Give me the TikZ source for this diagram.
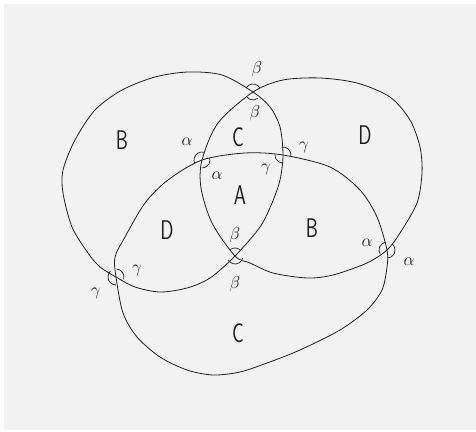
\documentclass[tikz,border=0pt]{standalone}
\usetikzlibrary{calc}
\definecolor{sheet}{HTML}{F2F2F2}
\definecolor{pencil}{HTML}{1E1E1E}
\newcommand{\MarkR}{8}

\begin{document}
\begin{tikzpicture}[x=1pt, y=1pt, pencil,
    ring/.style={draw=pencil, line width=0.8pt},
    angmark/.style={draw=pencil, line width=0.7pt},
    region/.style={font=\sffamily\fontsize{27}{30}\selectfont, xscale=0.72, inner sep=0pt},
    greek/.style={font=\fontsize{18}{20}\selectfont, inner sep=0pt},
  ]
% --- Background ---------------------------------------------------------------
\useasboundingbox (0,0) rectangle (476,-431);
\fill[white] (0,0) rectangle (476,-431);
\fill[sheet] (4,-4) rectangle (476,-430);

% --- The three rings (hand drawn, so smooth closed plots) ----------------------
\draw[ring] plot[smooth cycle] coordinates {(188,-72) (222,-75) (253,-92) (270,-107)
  (280,-127) (283,-155) (280,-180) (272,-203) (260,-227) (235,-256) (210,-278)
  (187,-288) (160,-292) (135,-287) (116,-277) (100,-267) (88,-253) (72,-227)
  (63,-193) (63,-170) (75,-140) (95,-110) (122,-90) (155,-77)};
\draw[ring] plot[smooth cycle] coordinates {(320,-78) (357,-83) (390,-97) (410,-120)
  (420,-147) (422,-173) (417,-203) (400,-233) (387,-250) (367,-263) (333,-275)
  (307,-278) (273,-273) (250,-263) (235,-256) (212,-223) (201,-188) (202,-160)
  (218,-123) (253,-92) (283,-80)};
\draw[ring] plot[smooth cycle] coordinates {(245,-153) (283,-155) (330,-167) (360,-190)
  (377,-217) (387,-250) (387,-267) (382,-290) (367,-310) (340,-330) (300,-350)
  (267,-363) (240,-372) (213,-375) (187,-370) (160,-357) (137,-337) (123,-313)
  (116,-277) (115,-257) (125,-237) (145,-203) (168,-180) (202,-160)};

% --- Crossings ------------------------------------------------------------------
\coordinate (top) at (253,-92);
\coordinate (mid) at (235,-256);
\coordinate (lup) at (202,-160);
\coordinate (rup) at (283,-155);
\coordinate (llo) at (116,-277);
\coordinate (rlo) at (387,-250);

% angle marks: crossing/start/end
\foreach \p/\a/\b in {top/30/150, top/215/306, mid/54/127, mid/210/343,
    lup/75/205, lup/272/375, rup/-12/100, rup/178/265,
    llo/135/270, llo/-18/85, rlo/100/212, rlo/-88/50} {
  \draw[angmark] (\p) ++(\a:\MarkR) arc[start angle=\a, end angle=\b, radius=\MarkR pt];
}

% --- Region letters -------------------------------------------------------------
\node[region] (bleft)  at (122,-140) {B};
\node[region] (ctop)   at (238,-137) {C};
\node[region] (dright) at (365,-135) {D};
\node[region] (acore)  at (240,-195) {A};
\node[region] (dleft)  at (167,-230) {D};
\node[region] (bright) at (312,-228) {B};
\node[region] (cbot)   at (238,-333) {C};

% --- Angle names ----------------------------------------------------------------
\node[greek] (btopout) at (257,-69)  {$\beta$};
\node[greek] (btopin)  at (255,-113) {$\beta$};
\node[greek] (bmidup)  at (235,-235) {$\beta$};
\node[greek] (bmiddn)  at (235,-284) {$\beta$};
\node[greek] (alupout) at (187,-142) {$\alpha$};
\node[greek] (alupin)  at (217,-176) {$\alpha$};
\node[greek] (alloin)  at (367,-243) {$\alpha$};
\node[greek] (alloout) at (409,-262) {$\alpha$};
\node[greek] (grupin)  at (266,-169) {$\gamma$};
\node[greek] (grupout) at (304,-147) {$\gamma$};
\node[greek] (glloin)  at (137,-270) {$\gamma$};
\node[greek] (glloout) at (96,-293)  {$\gamma$};
\end{tikzpicture}
\end{document}
